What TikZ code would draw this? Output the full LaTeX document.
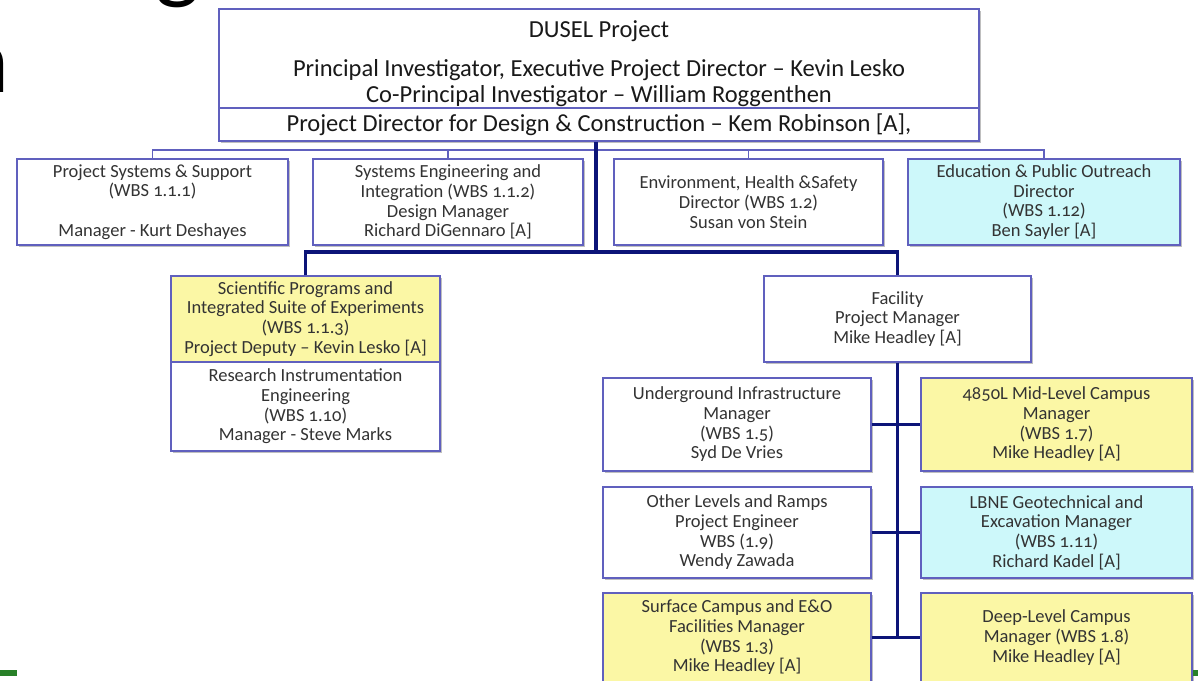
\documentclass[tikz,border=0pt]{standalone}
\usepackage{fontspec}
\setmainfont{Carlito}
\newfontfamily\boxfont{Carlito}[Numbers=OldStyle, Ligatures=TeX]
\usetikzlibrary{shadows}
\definecolor{bord}{RGB}{96,96,190}
\definecolor{navyc}{RGB}{12,20,120}
\definecolor{yel}{RGB}{251,247,165}
\definecolor{cya}{RGB}{205,248,250}
\definecolor{grn}{RGB}{40,128,40}
\begin{document}
\begin{tikzpicture}[x=1pt,y=-1pt,
  sz/.style 2 args={minimum width=#1pt, minimum height=#2pt},
  box/.style={draw=bord, line width=1.1pt, fill=white, align=center, inner sep=0pt,
    font=\boxfont\fontsize{18.5}{19.7}\selectfont, text=black!80,
    drop shadow={shadow xshift=2pt, shadow yshift=-2pt, fill=black, opacity=.25}},
  topbox/.style={box, font=\fontsize{24.5}{26}\selectfont, text=black!90},
  toptext/.style={inner sep=0pt, anchor=base, font=\fontsize{24.5}{26}\selectfont, text=black!90},
  ybox/.style={box, fill=yel},
  cbox/.style={box, fill=cya},
  thinc/.style={draw=bord, line width=1.2pt},
  thk/.style={draw=navyc, line width=3.6pt},
  title/.style={inner sep=0pt, font=\fontsize{95}{95}\selectfont, text=black}]
\useasboundingbox (0,0) rectangle (1198,680);
\clip (0,0) rectangle (1198,680);
\fill[white] (0,0) rectangle (1198,680);

% cut-off slide title letters
\node[title, anchor=base] (tg) at (178,-9) {g};
\node[title, anchor=base east] (tn) at (10,92) {n};

% top box
\node[topbox, sz={760}{99}] (top) at (599,58.5) {};
\node[toptext] (t1) at (599,37) {DUSEL Project};
\node[toptext] (t2) at (599,76) {Principal Investigator, Executive Project Director – Kevin Lesko};
\node[toptext] (t3) at (599,102) {Co-Principal Investigator – William Roggenthen};
\node[topbox, sz={760}{33}] (dir) at (599,124.5) {Project Director for Design \& Construction – Kem Robinson [A],};

% first row
\node[box, sz={271}{86}] (b1) at (152.5,202) {Project Systems \& Support\\(WBS 1.1.1)\\ \mbox{}\\Manager - Kurt Deshayes};
\node[box, sz={270}{86}] (b2) at (448,202) {Systems Engineering and\\Integration (WBS 1.1.2)\\Design Manager\\Richard DiGennaro [A]};
\node[box, sz={269}{86}] (b3) at (748.5,202) {Environment, Health \&Safety\\Director (WBS 1.2)\\Susan von Stein};
\node[cbox, sz={272}{86}] (b4) at (1044,202) {Education \& Public Outreach\\Director\\(WBS 1.12)\\Ben Sayler [A]};

% second row
\node[ybox, sz={269}{86}] (sci) at (305.5,319) {Scientific Programs and\\Integrated Suite of Experiments\\(WBS 1.1.3)\\Project Deputy – Kevin Lesko [A]};
\node[box, sz={269}{89}] (res) at (305.5,406.5) {Research Instrumentation\\Engineering\\(WBS 1.10)\\Manager - Steve Marks};
\node[box, sz={267}{86}] (fac) at (897.5,319) {Facility\\Project Manager\\Mike Headley [A]};

% facility subtree
\node[box, sz={268}{93}] (ui) at (737,424.5) {Underground Infrastructure\\Manager\\(WBS 1.5)\\Syd De Vries};
\node[ybox, sz={271}{93}] (mid) at (1056.5,424.5) {4850L Mid-Level Campus\\Manager\\(WBS 1.7)\\Mike Headley [A]};
\node[box, sz={268}{91}] (oth) at (737,532.5) {Other Levels and Ramps\\Project Engineer\\WBS (1.9)\\Wendy Zawada};
\node[cbox, sz={271}{91}] (lbne) at (1056.5,532.5) {LBNE Geotechnical and\\Excavation Manager\\(WBS 1.11)\\Richard Kadel [A]};
\node[ybox, sz={268}{89}] (sur) at (737,637.5) {Surface Campus and E\&O\\Facilities Manager\\(WBS 1.3)\\Mike Headley [A]};
\node[ybox, sz={271}{89}] (deep) at (1056.5,637.5) {Deep-Level Campus\\Manager (WBS 1.8)\\Mike Headley [A]};

% connectors
\coordinate (t) at (596,150);
\coordinate (j1) at (596,252);
\draw[thinc] (b1.north) |- (t);
\draw[thinc] (b4.north) |- (t);
\draw[thinc] (b2.north) -- (b2.north |- t);
\draw[thinc] (b3.north) -- (b3.north |- t);
\draw[thk] (dir.south -| j1) -- (j1);
\draw[thk] (sci.north) |- (j1) -| (fac.north);
\draw[thk] (fac.south) -- (fac.south |- sur.east);
\draw[thk] (ui.east) -- (mid.west);
\draw[thk] (oth.east) -- (lbne.west);
\draw[thk] (sur.east) -- (deep.west);

% green slide rule fragments
\fill[grn] (0,670) rectangle (17,676);
\fill[grn] (1193,670) rectangle (1198,676);
\end{tikzpicture}
\end{document}
